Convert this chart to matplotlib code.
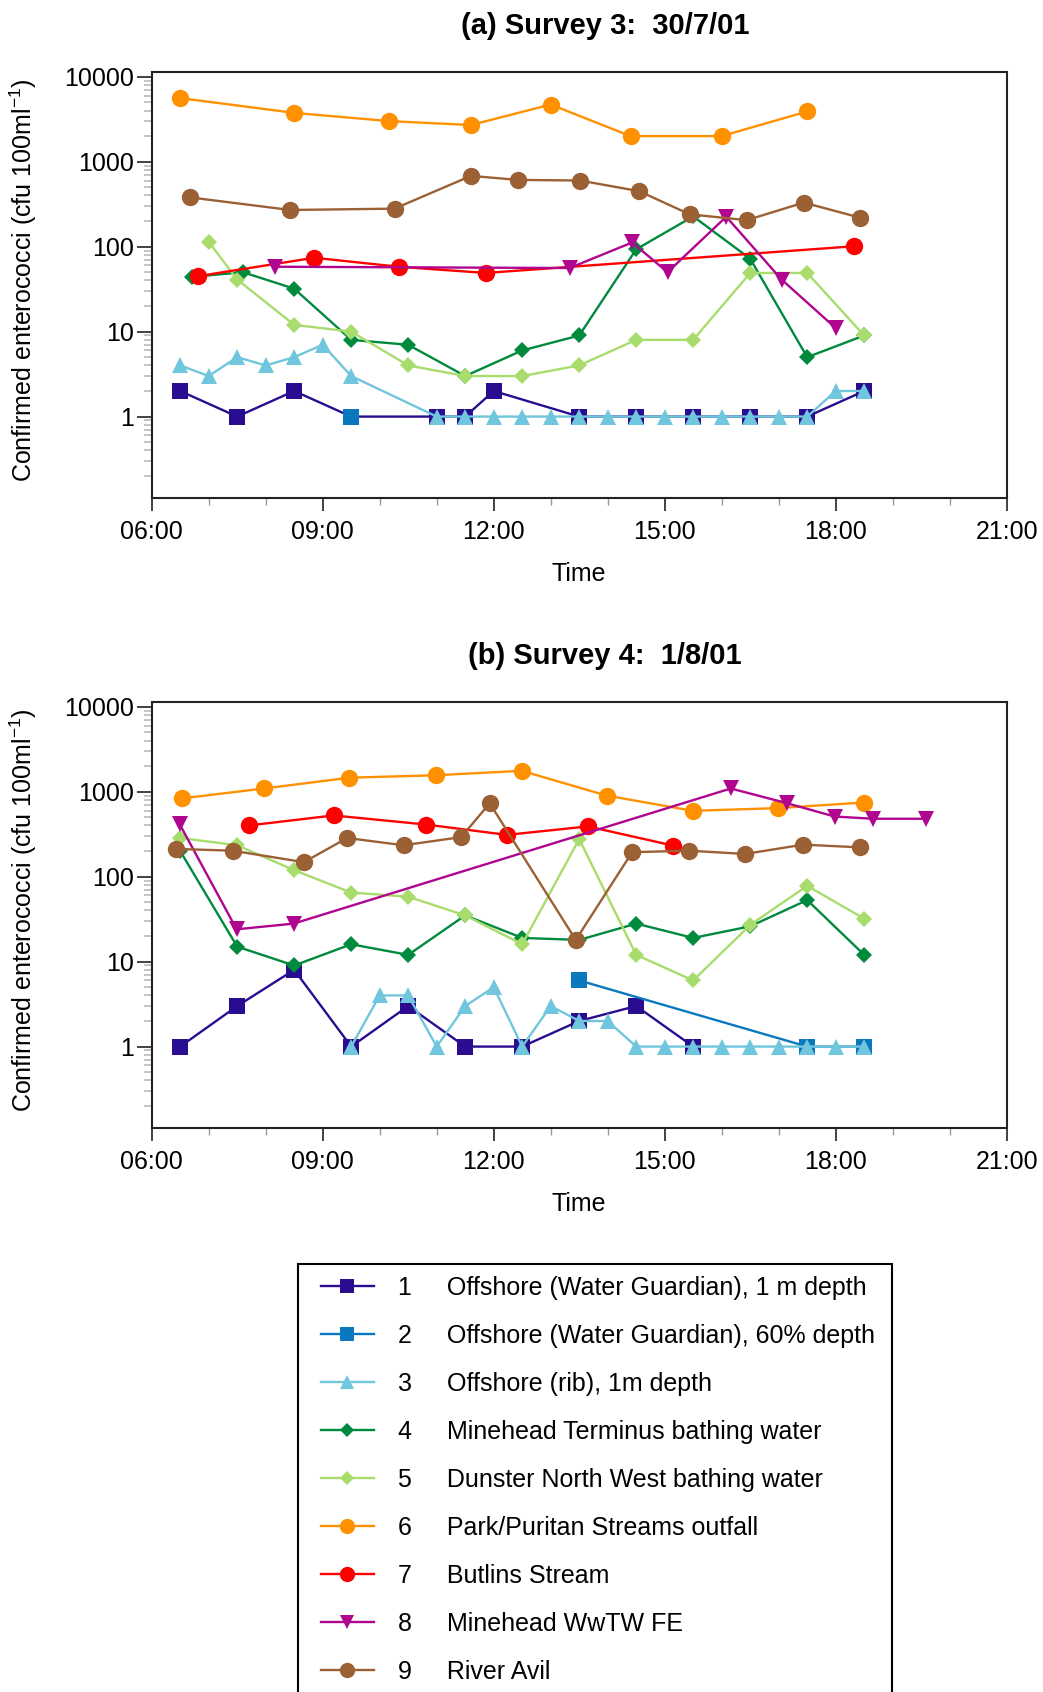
import matplotlib
matplotlib.use("Agg")
import matplotlib.pyplot as plt
from matplotlib.ticker import FixedLocator, NullFormatter
from matplotlib.lines import Line2D
from matplotlib.patches import Rectangle

plt.rcParams["font.family"] = ["Liberation Sans", "DejaVu Sans"]
plt.rcParams["mathtext.fontset"] = "custom"
plt.rcParams["mathtext.rm"] = "Liberation Sans"
plt.rcParams["mathtext.default"] = "regular"

site_numbers = ["1", "2", "3", "4", "5", "6", "7", "8", "9"]
site_names = [
    "Offshore (Water Guardian), 1 m depth",
    "Offshore (Water Guardian), 60% depth",
    "Offshore (rib), 1m depth",
    "Minehead Terminus bathing water",
    "Dunster North West bathing water",
    "Park/Puritan Streams outfall",
    "Butlins Stream",
    "Minehead WwTW FE",
    "River Avil",
]
site_colors = ["#2a0c90", "#0a78bf", "#70c6dc", "#008a3e", "#a8dc6c",
               "#ff9100", "#ff0000", "#b0058f", "#9b6034"]
site_markers = ["s", "s", "^", "D", "D", "o", "o", "v", "o"]
marker_sizes = {"s": 11.5, "^": 12, "v": 12, "D": 8.5, "o": 12.5}

# time of sampling in decimal hours, counts in cfu/100ml
# --- Survey 3: 30/7/01
s3_t1 = [6.5, 7.5, 8.5, 9.5, 11.0, 11.5, 12.0, 13.5, 14.5, 15.5, 16.5, 17.5, 18.5]
s3_v1 = [2, 1, 2, 1, 1, 1, 2, 1, 1, 1, 1, 1, 2]
s3_t2 = [9.5]
s3_v2 = [1]
s3_t3 = [6.5, 7.0, 7.5, 8.0, 8.5, 9.0, 9.5, 11.0, 11.5, 12.0, 12.5, 13.0, 13.5,
         14.0, 14.5, 15.0, 15.5, 16.0, 16.5, 17.0, 17.5, 18.0, 18.5]
s3_v3 = [4, 3, 5, 4, 5, 7, 3, 1, 1, 1, 1, 1, 1, 1, 1, 1, 1, 1, 1, 1, 1, 2, 2]
s3_t4 = [6.7, 7.6, 8.5, 9.5, 10.5, 11.5, 12.5, 13.5, 14.5, 15.5, 16.5, 17.5, 18.5]
s3_v4 = [44, 50, 32, 8, 7, 3, 6, 9, 93, 227, 72, 5, 9]
s3_t5 = [7.0, 7.5, 8.5, 9.5, 10.5, 11.5, 12.5, 13.5, 14.5, 15.5, 16.5, 17.5, 18.5]
s3_v5 = [114, 41, 12, 10, 4, 3, 3, 4, 8, 8, 49, 49, 9]
s3_t6 = [6.5, 8.5, 10.17, 11.6, 13.0, 14.4, 16.0, 17.5]
s3_v6 = [5600, 3750, 3000, 2700, 4700, 2000, 2000, 3900]
s3_t7 = [6.82, 8.85, 10.33, 11.86, 18.32]
s3_v7 = [45, 74, 58, 49, 101]
s3_t8 = [8.16, 13.33, 14.43, 15.05, 16.08, 17.05, 18.0]
s3_v8 = [58, 56, 112, 50, 225, 41, 11]
s3_t9 = [6.67, 8.43, 10.26, 11.6, 12.43, 13.51, 14.55, 15.44, 16.44, 17.44, 18.42]
s3_v9 = [380, 270, 280, 680, 610, 600, 450, 240, 205, 330, 220]

# --- Survey 4: 1/8/01
s4_t1 = [6.5, 7.5, 8.5, 9.5, 10.5, 11.5, 12.5, 13.5, 14.5, 15.5]
s4_v1 = [1, 3, 8, 1, 3, 1, 1, 2, 3, 1]
s4_t2 = [13.5, 17.5, 18.5]
s4_v2 = [6, 1, 1]
s4_t3 = [9.5, 10.0, 10.5, 11.0, 11.5, 12.0, 12.5, 13.0, 13.5, 14.0, 14.5, 15.0,
         15.5, 16.0, 16.5, 17.0, 17.5, 18.0, 18.5]
s4_v3 = [1, 4, 4, 1, 3, 5, 1, 3, 2, 2, 1, 1, 1, 1, 1, 1, 1, 1, 1]
s4_t4 = [6.5, 7.5, 8.5, 9.5, 10.5, 11.5, 12.5, 13.5, 14.5, 15.5, 16.5, 17.5, 18.5]
s4_v4 = [200, 15, 9, 16, 12, 35, 19, 18, 28, 19, 26, 53, 12]
s4_t5 = [6.5, 7.5, 8.5, 9.5, 10.5, 11.5, 12.5, 13.5, 14.5, 15.5, 16.5, 17.5, 18.5]
s4_v5 = [285, 234, 119, 65, 58, 35, 16, 277, 12, 6, 27, 78, 32]
s4_t6 = [6.54, 7.97, 9.47, 10.98, 12.49, 13.98, 15.49, 16.98, 18.49]
s4_v6 = [835, 1090, 1460, 1560, 1760, 900, 595, 640, 745]
s4_t7 = [7.7, 9.19, 10.82, 12.23, 13.65, 15.15]
s4_v7 = [400, 525, 410, 310, 390, 232]
s4_t8 = [6.49, 7.49, 8.49, 16.16, 17.15, 17.98, 18.65, 19.58]
s4_v8 = [415, 24, 28, 1090, 730, 510, 480, 480]
s4_t9 = [6.43, 7.42, 8.67, 9.43, 10.42, 11.43, 11.93, 13.44, 14.43, 15.42, 16.41,
         17.43, 18.43]
s4_v9 = [212, 202, 148, 285, 234, 292, 730, 18, 194, 202, 185, 238, 221]

survey3 = [(s3_t1, s3_v1), (s3_t2, s3_v2), (s3_t3, s3_v3), (s3_t4, s3_v4),
           (s3_t5, s3_v5), (s3_t6, s3_v6), (s3_t7, s3_v7), (s3_t8, s3_v8),
           (s3_t9, s3_v9)]
survey4 = [(s4_t1, s4_v1), (s4_t2, s4_v2), (s4_t3, s4_v3), (s4_t4, s4_v4),
           (s4_t5, s4_v5), (s4_t6, s4_v6), (s4_t7, s4_v7), (s4_t8, s4_v8),
           (s4_t9, s4_v9)]

x_major = [6, 9, 12, 15, 18, 21]
x_labels = ["06:00", "09:00", "12:00", "15:00", "18:00", "21:00"]
y_major = [1, 10, 100, 1000, 10000]
y_labels = ["1", "10", "100", "1000", "10000"]

W, H = 1043, 1692
fig = plt.figure(figsize=(W / 100, H / 100), dpi=100)


def make_panel(top_px, title, data):
    left, right, bottom = 151.7, 1006.7, top_px + 426
    ax = fig.add_axes([left / W, 1 - bottom / H, (right - left) / W, 426 / H])
    for i, (t, v) in enumerate(data):
        ax.plot(t, v, color=site_colors[i], marker=site_markers[i],
                ms=marker_sizes[site_markers[i]], lw=1.7, mew=0)
    ax.set_yscale("log")
    ax.set_xlim(6, 21)
    ax.set_ylim(0.111, 11450)
    ax.xaxis.set_major_locator(FixedLocator(x_major))
    ax.set_xticklabels(x_labels)
    ax.xaxis.set_minor_locator(FixedLocator(list(range(6, 22))))
    ax.yaxis.set_major_locator(FixedLocator(y_major))
    ax.set_yticklabels(y_labels)
    minors = [m * 10.0 ** e for e in range(-1, 4) for m in range(2, 10)]
    ax.yaxis.set_minor_locator(FixedLocator(minors))
    ax.yaxis.set_minor_formatter(NullFormatter())
    ax.tick_params(axis="both", which="major", labelsize=18, color="#222222")
    ax.tick_params(axis="x", which="major", length=9, width=1.2, pad=7)
    ax.tick_params(axis="x", which="minor", length=5, width=1.0, color="#999999")
    ax.tick_params(axis="y", which="major", length=11, width=1.2, pad=2)
    ax.tick_params(axis="y", which="minor", length=6, width=1.2, color="#bbbbbb")
    for sp in ax.spines.values():
        sp.set_linewidth(1.5)
        sp.set_color("#222222")
    ax.set_xlabel("Time", fontsize=18, labelpad=13)
    fig.text(605 / W, 1 - (top_px - 46) / H, title, fontsize=21,
             fontweight="bold", ha="center", va="center")
    fig.text(23 / W, 1 - (top_px + 209) / H,
             "Confirmed enterococci (cfu 100ml$^{-1}$)", fontsize=18,
             rotation=90, ha="center", va="center")
    return ax


make_panel(71.7, "(a) Survey 3:  30/7/01", survey3)
make_panel(701.7, "(b) Survey 4:  1/8/01", survey4)

# legend box runs off the bottom of the page, as in the original
fig.patches.append(Rectangle((298 / W, 1 - 1720 / H), 594 / W, 456 / H,
                             transform=fig.transFigure, fill=False,
                             edgecolor="black", lw=1.5))
handles = [Line2D([], [], color=site_colors[i], marker=site_markers[i],
                  ms=marker_sizes[site_markers[i]] - 1.5, lw=1.7, mew=0)
           for i in range(9)]
labels = [n + "     " + s for n, s in zip(site_numbers, site_names)]
fig.legend(handles, labels, loc="upper left",
           bbox_to_anchor=(321 / W, 1 - 1276 / H), fontsize=18,
           frameon=False, handlelength=2.1, handletextpad=1.0,
           labelspacing=0.96, borderpad=0, borderaxespad=0)

fig.savefig("out.png", dpi=100)
